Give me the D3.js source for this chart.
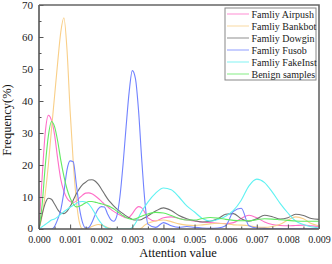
<!DOCTYPE html>
<html>
<head>
<meta charset="utf-8">
<script src="https://cdn.jsdelivr.net/npm/d3@7"></script>
<style>
  body { margin: 0; background: #fff; }
  svg { display: block; font-family: "Liberation Serif", "Times New Roman", serif; }
  .axis path, .axis line { stroke: #555; }
  .axis text { fill: #222; font-size: 10px; font-family: "Liberation Serif", serif; }
</style>
</head>
<body>
<svg id="chart" width="332" height="264"></svg>
<script>
// attention-value grid (x), in units of 0.0001
const grid = [0, 1, 2, 3, 4, 5, 6, 7, 8, 9, 10, 11, 12, 13, 14, 15, 16, 17, 18, 19,
  20, 21, 22, 23, 24, 25, 26, 27, 28, 29, 30, 31, 32, 33, 34, 35,
  37.5, 40, 42.5, 45, 47.5, 50, 52.5, 55, 57.5, 60, 62.5, 65, 67.5, 70,
  72.5, 75, 77.5, 80, 82.5, 85, 87.5, 90];

const airpush = [0, 16, 30, 35.5, 34, 29.5, 22, 15.5, 11.8, 9.6, 8.6, 8.3, 8.7, 9.7, 10.6, 11.2, 11.3, 11, 10.4, 9.6,
  8.7, 7.8, 7, 6.2, 5.5, 4.9, 4.4, 3.9, 3.5, 3.7, 4.8, 6.2, 7, 6.6, 5.2, 3.5,
  2.5, 3.5, 3.8, 3.3, 2.8, 2.5, 2.2, 2, 1.8, 1.7, 2, 3.3, 4.3, 3.5,
  2.2, 1.4, 1.1, 1, 1.1, 1.2, 1, 0.8];

const bankbot = [0, 4, 11, 20, 31, 41.5, 52, 61.5, 66, 56, 37, 21, 9, 2, 0, 0, 0.3, 0.8, 1.2, 1.4,
  1.3, 0.9, 0.5, 0.2, 0, 0, 0, 0, 0, 0, 0, 0, 0, 0.3, 1.2, 1.8,
  2.5, 2.8, 2.3, 1.6, 1.2, 1.1, 1.3, 1.6, 1.8, 1.6, 1.3, 1.2, 1, 0.6,
  0.5, 0.8, 1.5, 2.8, 3.8, 3.2, 1.7, 1];

const dowgin = [0, 4.5, 8, 9.6, 9.3, 7.8, 6.1, 5, 4.8, 5.5, 7, 9, 11, 12.6, 13.9, 14.6, 15.3, 15.4, 15, 14,
  12.6, 11, 9.5, 8.3, 7.2, 6.3, 5.5, 4.8, 4.1, 3.5, 3, 2.8, 2.8, 3, 3.5, 4.1,
  5.6, 6.6, 5.8, 4.2, 3.2, 2.6, 2.2, 2.4, 3.2, 4.6, 4.8, 3.2, 2.4, 3.2,
  4.3, 3.8, 3.1, 3.5, 4.6, 4.2, 3.3, 3];

const fusob = [0, 0, 0, 0, 0, 0.8, 3, 6, 11.5, 18.5, 21.3, 21, 14, 6.5, 2, 0.3, 0.5, 2, 4.3, 6.2,
  7, 6.9, 4.8, 3, 2.4, 4, 10, 20, 32, 43, 49.5, 47, 37, 22, 9, 1.5,
  0.5, 2, 1, 0.5, 0.8, 0.5, 0.3, 0.2, 0.3, 1, 5.5, 6.5, 1, 0.3,
  0.2, 0.1, 0.1, 0.1, 0.1, 0.1, 0.1, 0.1];

const fakeInst = [0, 0.7, 1.4, 2.1, 2.8, 3.1, 3.8, 4.6, 5.4, 6.1, 6.8, 7.4, 8, 8.5, 8.6, 8.4, 7.8, 6.5, 4.8, 3.1,
  1.8, 0.8, 0.3, 0, 0, 0, 0, 0, 0, 0, 0.5, 1.8, 3.6, 5.5, 7, 8.4,
  11.2, 12.8, 12.3, 10, 7.2, 5.3, 3.3, 2.5, 3, 4, 5.8, 9, 13.5, 15.6,
  14.5, 11.5, 8, 5, 2.5, 1.4, 0.7, 0.3];

const benign = [0, 7.5, 19.6, 29, 33.6, 32, 27.5, 21.5, 16.5, 12.5, 9.7, 7.8, 6.9, 7.1, 7.6, 8.2, 8.6, 8.6, 8.4, 8.1,
  7.9, 7.6, 7.3, 6.9, 6.3, 5.6, 4.9, 4.2, 3.6, 3.2, 3, 3.2, 3.6, 4, 4.4, 4.7,
  5.2, 5, 4.2, 3.3, 2.8, 2.8, 3.3, 3.6, 3.4, 3, 2.7, 2.6, 2.6, 2.9,
  3.2, 3.1, 2.9, 2.7, 2.5, 2.4, 2.4, 2.4];

const seriesNames = ['Famliy Airpush', 'Famliy Bankbot', 'Famliy Dowgin', 'Famliy Fusob', 'Famliy FakeInst', 'Benign samples'];
const seriesValues = [airpush, bankbot, dowgin, fusob, fakeInst, benign];
const colors = ['#ff6fc8', '#f9cf88', '#707070', '#7182ff', '#5ff2f2', '#62ea62'];

const xTicks = [0, 0.001, 0.002, 0.003, 0.004, 0.005, 0.006, 0.007, 0.008, 0.009];
const yTicks = [0, 10, 20, 30, 40, 50, 60, 70];

const svg = d3.select('#chart');
const mLeft = 39, mRight = 319, mTop = 5, mBottom = 229;

const x = d3.scaleLinear().domain([0, 0.009]).range([mLeft, mRight]);
const y = d3.scaleLinear().domain([0, 70]).range([mBottom, mTop]);

// clip
svg.append('defs').append('clipPath').attr('id', 'clip')
  .append('rect').attr('x', mLeft).attr('y', mTop).attr('width', mRight - mLeft).attr('height', mBottom - mTop);

// curves
const line = d3.line()
  .x((d) => x(d[0] * 0.0001))
  .y((d) => y(d[1]))
  .curve(d3.curveMonotoneX);

const plot = svg.append('g').attr('clip-path', 'url(#clip)');
seriesValues.forEach((vals, i) => {
  plot.append('path')
    .datum(grid.map((g, j) => [g, vals[j]]))
    .attr('fill', 'none')
    .attr('stroke', colors[i])
    .attr('stroke-width', 1.1)
    .attr('d', line);
});

// minor ticks
const xMinor = d3.range(0.0005, 0.009, 0.001);
const yMinor = d3.range(5, 70, 10);

svg.append('g').attr('class', 'axis')
  .attr('transform', `translate(0,${mBottom})`)
  .call(d3.axisBottom(x).tickValues(xMinor).tickSize(-2.5).tickFormat(''))
  .call((g) => g.select('.domain').remove());
svg.append('g').attr('class', 'axis')
  .attr('transform', `translate(${mLeft},0)`)
  .call(d3.axisLeft(y).tickValues(yMinor).tickSize(-2.5).tickFormat(''))
  .call((g) => g.select('.domain').remove());

const xAxis = svg.append('g').attr('class', 'axis')
  .attr('transform', `translate(0,${mBottom})`)
  .call(d3.axisBottom(x).tickValues(xTicks).tickSize(-4.5).tickPadding(7).tickFormat(d3.format('.3f')));
xAxis.select('.domain').attr('stroke-width', 1.6).attr('d', `M${mLeft},0H${mRight}`);

const yAxis = svg.append('g').attr('class', 'axis')
  .attr('transform', `translate(${mLeft},0)`)
  .call(d3.axisLeft(y).tickValues(yTicks).tickSize(-4.5).tickPadding(6));
yAxis.select('.domain').attr('stroke-width', 1.6).attr('d', `M0,${mBottom}V${mTop}`);
yAxis.selectAll('text').style('font-size', '11px');
// nudge the "0" label up a touch so it clears the x labels
yAxis.selectAll('.tick').filter((d) => d === 0).select('text').attr('dy', '0.2em');

// frame top/right
svg.append('path')
  .attr('d', `M${mLeft},${mTop}H${mRight}V${mBottom}`)
  .attr('fill', 'none')
  .attr('stroke', '#666')
  .attr('stroke-width', 1.6);

// axis titles
svg.append('text')
  .attr('x', 178).attr('y', 257)
  .attr('text-anchor', 'middle')
  .style('font-size', '12.5px')
  .attr('fill', '#111')
  .text('Attention value');

svg.append('text')
  .attr('transform', 'translate(11,120) rotate(-90)')
  .attr('text-anchor', 'middle')
  .style('font-size', '12.5px')
  .attr('fill', '#111')
  .text('Frequency(%)');

// legend
const legend = svg.append('g').attr('transform', 'translate(225,8)');
legend.append('rect')
  .attr('width', 91).attr('height', 72)
  .attr('fill', '#fff').attr('stroke', '#888').attr('stroke-width', 1);
seriesNames.forEach((name, i) => {
  const ly = 6 + i * 12;
  legend.append('line')
    .attr('x1', 2).attr('x2', 24).attr('y1', ly).attr('y2', ly)
    .attr('stroke', colors[i]).attr('stroke-width', 1.3).attr('opacity', 0.6);
  legend.append('text')
    .attr('x', 26.5).attr('y', ly + 3.5)
    .style('font-size', '10px')
    .attr('fill', '#222')
    .text(name);
});
</script>
</body>
</html>
